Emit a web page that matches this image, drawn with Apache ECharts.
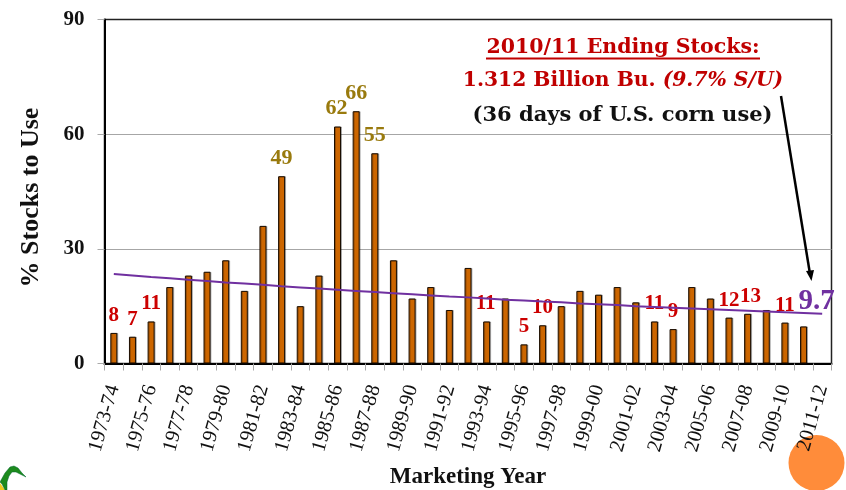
<!DOCTYPE html>
<html><head><meta charset="utf-8">
<style>html,body{margin:0;padding:0;background:#fff}#c{width:846px;height:490px}</style>
<script src="https://cdn.jsdelivr.net/npm/echarts@6/dist/echarts.min.js"></script>
</head><body><div id="c"></div>
<script>
const years = ['1973-74','1974-75','1975-76','1976-77','1977-78','1978-79','1979-80','1980-81','1981-82','1982-83','1983-84','1984-85','1985-86','1986-87','1987-88','1988-89','1989-90','1990-91','1991-92','1992-93','1993-94','1994-95','1995-96','1996-97','1997-98','1998-99','1999-00','2000-01','2001-02','2002-03','2003-04','2004-05','2005-06','2006-07','2007-08','2008-09','2009-10','2010-11','2011-12'];
const stocksToUse = [8,7,11,20,23,24,27,19,36,49,15,23,62,66,55,27,17,20,14,25,11,17,5,10,15,19,18,20,16,11,9,20,17,12,13,14,10.7,9.7,null];
const trend = [23.4,23.0,22.6,22.3,21.9,21.6,21.2,20.9,20.6,20.2,19.9,19.6,19.3,19.0,18.7,18.4,18.1,17.8,17.5,17.3,17.0,16.7,16.5,16.2,16.0,15.7,15.5,15.3,15.0,14.8,14.6,14.4,14.2,14.0,13.8,13.6,13.4,13.2,13.0];
const highLabels = {'1982-83':'49','1985-86':'62','1986-87':'66','1987-88':'55'};
const lowLabels = {'1973-74':'8','1974-75':'7','1975-76':'11','1993-94':'11','1995-96':'5','1996-97':'10','2002-03':'11','2003-04':'9','2006-07':'12','2007-08':'13','2009-10':'11'};
const labelNudge = {'1985-86':[-1,0],'2007-08':[3,0],'1993-94':[-1,0]};
const serif = '"Liberation Serif"';
const wide = '"DejaVu Serif"';
const red = '#c00000', gold = '#997a0d', purple = '#7030a0';

function barItem(v, i) {
  const y = years[i];
  const item = { value: v };
  const nudge = labelNudge[y] || [0,0];
  if (highLabels[y]) item.label = { show:true, position:'top', distance:7, formatter:highLabels[y], color:gold, fontSize:22, fontWeight:'bold', fontFamily:serif, offset:nudge };
  else if (lowLabels[y]) item.label = { show:true, position:'top', distance:7, formatter:lowLabels[y], color:'#cc0000', fontSize:21, fontWeight:'bold', fontFamily:serif, offset:nudge };
  else if (y === '2010-11') item.label = { show:true, position:'top', distance:7, formatter:'9.7', color:purple, fontSize:29, fontWeight:'bold', fontFamily:serif, offset:[13,-3] };
  return item;
}

const chart = echarts.init(document.getElementById('c'), null, {renderer:'canvas'});
chart.setOption({
  animation:false,
  backgroundColor:'#fff',
  grid:{left:104.5,right:14.5,top:19.5,bottom:126.5,containLabel:false,outerBoundsMode:'none',show:true,borderColor:'#222',borderWidth:1.5,backgroundColor:'transparent'},
  xAxis:{
    type:'category',data:years,
    name:'Marketing Year',nameLocation:'middle',nameGap:102,
    nameTextStyle:{fontFamily:serif,fontWeight:'bold',fontSize:23,color:'#111'},
    axisLine:{show:true,lineStyle:{color:'#000',width:2}},
    axisTick:{show:true,alignWithLabel:false,interval:0,length:7,lineStyle:{color:'#aaa'}},
    axisLabel:{interval:1,rotate:74,fontFamily:serif,fontSize:20.5,color:'#111',margin:22}
  },
  yAxis:{
    type:'value',min:0,max:90,interval:30,
    name:'% Stocks to Use',nameLocation:'middle',nameGap:60,
    nameTextStyle:{fontFamily:serif,fontWeight:'bold',fontSize:26,color:'#111',padding:[0,12,0,0]},
    axisLine:{show:true,lineStyle:{color:'#000',width:2}},
    axisTick:{show:true,length:7,lineStyle:{color:'#aaa'}},
    axisLabel:{fontFamily:serif,fontWeight:'bold',fontSize:21,color:'#111',margin:20},
    splitLine:{show:true,showMaxLine:false,showMinLine:false,lineStyle:{color:'#a6a6a6',width:1}}
  },
  series:[
    {type:'bar',data:stocksToUse.map(barItem),barWidth:7,z:2,
     itemStyle:{color:'#cc6600',borderColor:'#1a0d00',borderWidth:1,shadowColor:'rgba(0,0,0,0.25)',shadowOffsetX:1,shadowOffsetY:0,shadowBlur:0}},
    {type:'line',data:trend,showSymbol:false,symbol:'none',z:3,smooth:false,lineStyle:{color:purple,width:2}}
  ],
  graphic:[
    {type:'text',z:10,style:{x:623,y:48,text:'2010/11 Ending Stocks:',fill:red,font:'bold 20.5px '+wide,textAlign:'center',textVerticalAlign:'middle'}},
    {type:'line',z:10,shape:{x1:486,y1:58.5,x2:760,y2:58.5},style:{stroke:red,lineWidth:2}},
    {type:'text',z:10,style:{x:623,y:81,text:'{a|1.312 Billion Bu. }{b|(9.7% S/U)}',fill:red,textAlign:'center',textVerticalAlign:'middle',
      rich:{a:{font:'bold 20.3px '+wide,fill:red},b:{font:'italic bold 20.3px '+wide,fill:red}}}},
    {type:'text',z:10,style:{x:622.5,y:116,text:'(36 days of U.S. corn use)',fill:'#111',font:'bold 21px '+wide,textAlign:'center',textVerticalAlign:'middle'}},
    {type:'line',z:11,shape:{x1:781,y1:96,x2:810,y2:274},style:{stroke:'#000',lineWidth:2.5}},
    {type:'polygon',z:11,shape:{points:[[811.5,281],[806,271],[814,270]]},style:{fill:'#000'}},
    {type:'circle',z:-10,shape:{cx:816.5,cy:463,r:28},style:{fill:'#ff8c3a'}},
    {type:'polygon',z:11,shape:{points:[[0,483],[5,490],[0,490]]},style:{fill:'#f2c81e'}},
    {type:'polygon',z:12,shape:{points:[[0,482],[5,473],[10,467],[14,466],[18,468],[22,473],[26,477],[20,474],[16,472],[12,472],[9,476],[7,482],[7,490],[5,490],[2,484]]},style:{fill:'#1d8a1d',stroke:'#063',lineWidth:0.5}}
  ]
});
</script></body></html>
